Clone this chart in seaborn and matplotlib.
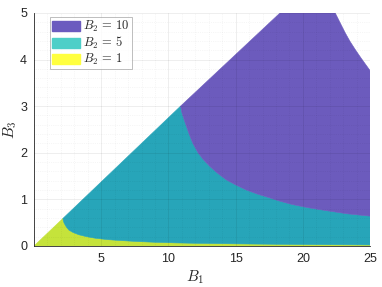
import numpy as np
import matplotlib
matplotlib.use('Agg')
from matplotlib import pyplot as plt
from matplotlib.patches import Patch
from matplotlib.ticker import MultipleLocator
import seaborn as sns

sns.set_style('white')
plt.rcParams['font.family'] = ['Liberation Sans', 'DejaVu Sans']
plt.rcParams['mathtext.fontset'] = 'cm'

# boundaries (B1, B3)
diag_b1 = [0.0, 2.15, 10.9, 18.3]
diag_b3 = [0.0, 0.59, 3.0, 5.0]

yellow_top_b1 = [2.15, 2.18, 2.24, 2.4, 2.6, 2.9, 3.34, 3.9, 4.58, 5.5, 6.55,
                 7.7, 9.0, 10.5, 12.0, 15.0, 20.0, 25.0]
yellow_top_b3 = [0.59, 0.54, 0.49, 0.41, 0.34, 0.29, 0.24, 0.20, 0.165, 0.135, 0.114,
                 0.095, 0.079, 0.066, 0.057, 0.045, 0.03, 0.022]

purple_low_b1 = [10.9, 11.0, 11.2, 11.5, 11.8, 12.2, 12.6, 13.1, 13.7, 14.3, 15.0,
                 15.8, 16.6, 17.5, 18.3, 19.2, 20.4, 21.7, 23.3, 25.0]
purple_low_b3 = [3.0, 2.86, 2.68, 2.43, 2.21, 2.0, 1.85, 1.70, 1.55, 1.42, 1.31,
                 1.20, 1.115, 1.035, 0.96, 0.89, 0.82, 0.76, 0.69, 0.64]

purple_right_b1 = [22.4, 22.8, 23.15, 23.5, 23.9, 24.35, 24.8, 25.0]
purple_right_b3 = [5.0, 4.77, 4.57, 4.39, 4.21, 4.02, 3.84, 3.76]

labels = [r'$B_2\,=\,10$', r'$B_2\,=\,5$', r'$B_2\,=\,1$']
fill_colors = ['#6c5bbd', '#27a5b9', '#c5e33b']
legend_colors = ['#6b5bbf', '#4dcfc8', '#ffff3f']

fig, ax = plt.subplots(figsize=(3.82, 2.87), dpi=100)
fig.subplots_adjust(left=0.089, right=0.969, bottom=0.143, top=0.955)

# B2 = 1
xs = [diag_b1[0], diag_b1[1]] + yellow_top_b1 + [25.0]
ys = [diag_b3[0], diag_b3[1]] + yellow_top_b3 + [0.0]
ax.fill(xs, ys, color=fill_colors[2], lw=0.4, zorder=1)

# B2 = 5
xs = diag_b1[1:3] + purple_low_b1 + yellow_top_b1[::-1]
ys = diag_b3[1:3] + purple_low_b3 + yellow_top_b3[::-1]
ax.fill(xs, ys, color=fill_colors[1], lw=0.4, zorder=1)

# B2 = 10
xs = diag_b1[2:4] + purple_right_b1 + purple_low_b1[::-1]
ys = diag_b3[2:4] + purple_right_b3 + purple_low_b3[::-1]
ax.fill(xs, ys, color=fill_colors[0], lw=0.4, zorder=1)

ax.set_xlim(0, 25)
ax.set_ylim(0, 5)
ax.set_xticks([5, 10, 15, 20, 25])
ax.set_yticks([0, 1, 2, 3, 4, 5])
ax.xaxis.set_minor_locator(MultipleLocator(1))
ax.yaxis.set_minor_locator(MultipleLocator(0.2))
ax.grid(True, which='major', color='k', alpha=0.08, lw=0.6, zorder=2)
ax.grid(True, which='minor', color='k', alpha=0.07, lw=0.5, ls=':', zorder=2)
ax.set_axisbelow(False)

for s in ['top', 'right']:
    ax.spines[s].set_visible(False)
for s in ['left', 'bottom']:
    ax.spines[s].set_color('#262626')
    ax.spines[s].set_linewidth(0.6)
ax.tick_params(which='major', direction='in', length=3, width=0.6,
               color='#262626', labelcolor='#262626', labelsize=9, pad=5)
ax.tick_params(which='minor', length=0)

ax.set_xlabel('$B_1$', fontsize=11)
ax.xaxis.set_label_coords(0.48, -0.095)
ax.set_ylabel('$B_3$', fontsize=11)
ax.yaxis.set_label_coords(-0.045, 0.5)

handles = [Patch(facecolor=c, edgecolor=c) for c in legend_colors]
leg = ax.legend(handles, labels, loc='upper left', bbox_to_anchor=(0.048, 0.982),
                fontsize=9, frameon=True, fancybox=False, edgecolor='#a0a0a0',
                handlelength=2.2, handleheight=0.85, handletextpad=0.3,
                labelspacing=0.08, borderpad=0.15, borderaxespad=0)
leg.get_frame().set_linewidth(0.6)

fig.savefig('out.png', dpi=100)
